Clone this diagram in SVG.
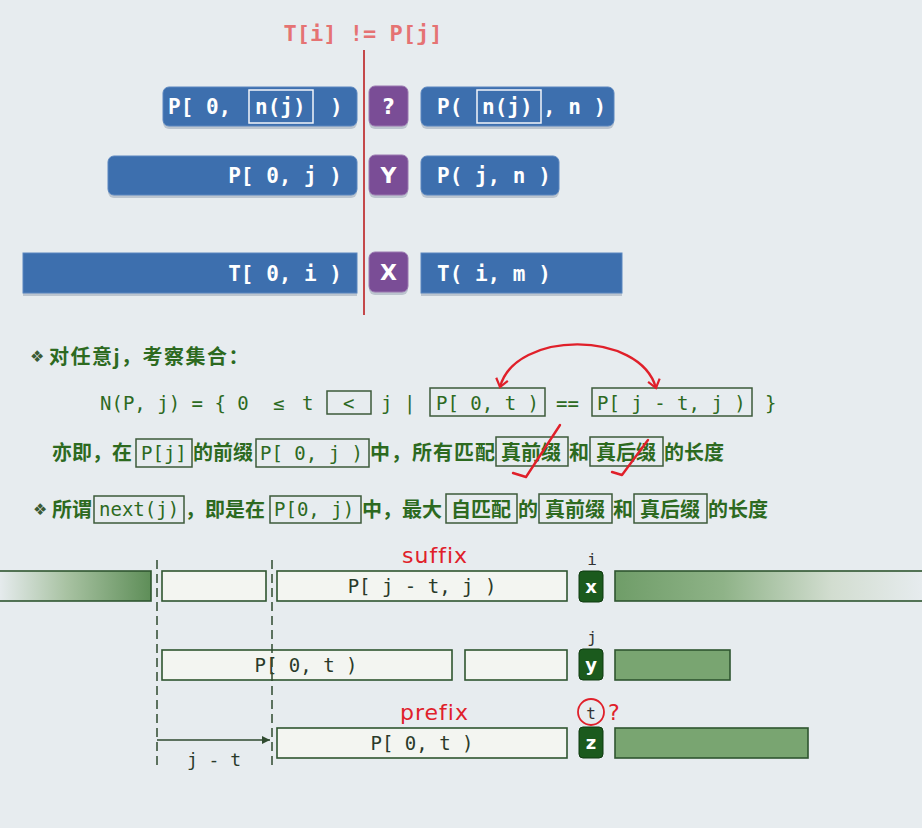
<svg xmlns="http://www.w3.org/2000/svg" width="922" height="828" viewBox="0 0 922 828">
<style>
.bg{fill:#e7ecef}
.blue{fill:#3d6fae;stroke:#5a86bf;stroke-width:1}
.shadow{fill:#bcc5cf}
.purple{fill:#7a4d96;stroke:#9a78b0;stroke-width:1}
.wt{font-family:"DejaVu Sans Mono","Liberation Mono",monospace;font-weight:bold;font-size:21px;fill:#ffffff}
.badge{font-family:"DejaVu Sans","Liberation Sans",sans-serif;font-weight:bold;font-size:19px;fill:#ffffff;text-anchor:middle}
.inbox{fill:none;stroke:#f2f5fa;stroke-width:1.5}
.cn{font-family:"Noto Sans CJK SC","DejaVu Sans",sans-serif;font-weight:bold;font-size:20px;fill:#2d6a1f}
.mono{font-family:"DejaVu Sans Mono","Liberation Mono",monospace;font-size:19px;fill:#2d6a1f}
.tb{fill:none;stroke:#3d5a3a;stroke-width:1.5}
.dia{font-family:"DejaVu Sans",sans-serif;font-size:16px;fill:#3b5a35}
.wb{fill:#f3f5f1;stroke:#2f5530;stroke-width:1.6}
.gb{fill:#79a571;stroke:#2f5530;stroke-width:1.6}
.dk{fill:#1b5a1d;stroke:#0f3a10;stroke-width:1}
.bt{font-family:"DejaVu Sans Mono","Liberation Mono",monospace;font-size:19px;fill:#2a3a2a;text-anchor:middle}
.lab{font-family:"DejaVu Sans Mono","Liberation Mono",monospace;font-size:16px;fill:#333333;text-anchor:middle}
.red{font-family:"DejaVu Sans","Liberation Sans",sans-serif;font-size:22px;fill:#e0202a}
.dash{stroke:#2f4a2f;stroke-width:1.5;stroke-dasharray:9 5;fill:none}
.ink{fill:none;stroke:#e0202a;stroke-width:2.4;stroke-linecap:round;stroke-linejoin:round}
</style>
<defs>
<linearGradient id="gL" x1="0" y1="0" x2="1" y2="0">
<stop offset="0" stop-color="#e7ecef"/>
<stop offset="0.45" stop-color="#a8c2a2"/>
<stop offset="1" stop-color="#5e8e58"/>
</linearGradient>
<linearGradient id="gR" x1="0" y1="0" x2="1" y2="0">
<stop offset="0" stop-color="#6f9d68"/>
<stop offset="0.35" stop-color="#8fb388"/>
<stop offset="0.7" stop-color="#d2ddd0"/>
<stop offset="1" stop-color="#e7ecef"/>
</linearGradient>
<marker id="redArrow" markerWidth="14" markerHeight="14" refX="10" refY="7" orient="auto-start-reverse" markerUnits="userSpaceOnUse">
<path d="M2,1 L10,7 L2,13" fill="none" stroke="#e0202a" stroke-width="2.2"/>
</marker>
<marker id="grArrow" markerWidth="10" markerHeight="10" refX="8" refY="5" orient="auto" markerUnits="userSpaceOnUse">
<path d="M0,1 L8,5 L0,9 Z" fill="#2f4a2f"/>
</marker>
</defs>
<rect class="bg" x="0" y="0" width="922" height="828"/>

<g id="title">
<text x="363" y="41" text-anchor="middle" style="font-family:'DejaVu Sans Mono','Liberation Mono',monospace;font-weight:bold;font-size:22px;fill:#e57373">T[i] != P[j]</text>
</g>

<g id="divider">
<line x1="364" y1="50" x2="364" y2="315" stroke="#c4484a" stroke-width="2"/>
</g>

<g id="row1-left">
<rect class="shadow" x="163" y="89" width="194" height="40" rx="6"/>
<rect class="blue" x="163" y="87" width="194" height="39" rx="6"/>
<text class="wt" x="168" y="114">P[ 0,</text>
<rect class="inbox" x="249" y="90" width="64" height="33"/>
<text class="wt" x="255" y="114">n(j)</text>
<text class="wt" x="330" y="114">)</text>
</g>
<g id="row1-badge">
<rect class="shadow" x="369" y="88" width="39" height="41" rx="6"/>
<rect class="purple" x="369" y="86" width="39" height="40" rx="6"/>
<text class="badge" x="388.5" y="114" style="font-size:21px">?</text>
</g>
<g id="row1-right">
<rect class="shadow" x="421" y="89" width="193" height="40" rx="6"/>
<rect class="blue" x="421" y="87" width="193" height="39" rx="6"/>
<text class="wt" x="437" y="114">P(</text>
<rect class="inbox" x="477" y="90" width="64" height="33"/>
<text class="wt" x="482" y="114">n(j)</text>
<text class="wt" x="543" y="114">, n )</text>
</g>

<g id="row2-left">
<rect class="shadow" x="108" y="158" width="249" height="40" rx="6"/>
<rect class="blue" x="108" y="156" width="249" height="39" rx="6"/>
<text class="wt" x="342" y="183" text-anchor="end">P[ 0, j )</text>
</g>
<g id="row2-badge">
<rect class="shadow" x="369" y="157" width="39" height="41" rx="6"/>
<rect class="purple" x="369" y="155" width="39" height="40" rx="6"/>
<text class="badge" x="388.5" y="183" style="font-size:22px">Y</text>
</g>
<g id="row2-right">
<rect class="shadow" x="421" y="158" width="138" height="40" rx="6"/>
<rect class="blue" x="421" y="156" width="138" height="39" rx="6"/>
<text class="wt" x="437" y="183">P( j, n )</text>
</g>

<g id="row3-left">
<rect class="shadow" x="23" y="255" width="334" height="41"/>
<rect class="blue" x="23" y="253" width="334" height="40"/>
<text class="wt" x="342" y="281" text-anchor="end">T[ 0, i )</text>
</g>
<g id="row3-badge">
<rect class="shadow" x="369" y="254" width="39" height="41" rx="6"/>
<rect class="purple" x="369" y="252" width="39" height="40" rx="6"/>
<text class="badge" x="388.5" y="280" style="font-size:22px">X</text>
</g>
<g id="row3-right">
<rect class="shadow" x="421" y="255" width="201" height="41"/>
<rect class="blue" x="421" y="253" width="201" height="40"/>
<text class="wt" x="437" y="281">T( i, m )</text>
</g>

<g id="line1">
<text class="dia" x="30" y="362">❖</text>
<text class="cn" x="49" y="364" style="letter-spacing:1.5px">对任意j，考察集合：</text>
</g>

<g id="formula">
<text class="mono" x="100" y="410">N(P, j) = { 0</text>
<text class="mono" x="273" y="410">≤</text>
<text class="mono" x="302" y="410">t</text>
<rect class="tb" x="327" y="391" width="44" height="23"/>
<text class="mono" x="343" y="410">&lt;</text>
<text class="mono" x="381" y="410">j</text>
<text class="mono" x="404" y="410">|</text>
<rect class="tb" x="430" y="388" width="115" height="28"/>
<text class="mono" x="436" y="410">P[ 0, t )</text>
<text class="mono" x="556" y="410">==</text>
<rect class="tb" x="592" y="388" width="160" height="28"/>
<text class="mono" x="597" y="410">P[ j - t, j )</text>
<text class="mono" x="765" y="410">}</text>
</g>

<g id="line3">
<text class="cn" x="52" y="460">亦即，在</text>
<rect class="tb" x="136" y="439" width="56" height="28"/>
<text class="mono" x="141" y="460">P[j]</text>
<text class="cn" x="193" y="460">的前缀</text>
<rect class="tb" x="256" y="439" width="113" height="28"/>
<text class="mono" x="260" y="460">P[ 0, j )</text>
<text class="cn" x="370" y="460" style="letter-spacing:1px">中，所有匹配</text>
<rect class="tb" x="496" y="437" width="72" height="29"/>
<text class="cn" x="501" y="460">真前缀</text>
<text class="cn" x="569" y="460">和</text>
<rect class="tb" x="590" y="437" width="73" height="29"/>
<text class="cn" x="596" y="460">真后缀</text>
<text class="cn" x="664" y="460">的长度</text>
</g>

<g id="line4">
<text class="dia" x="33" y="515">❖</text>
<text class="cn" x="52" y="517">所谓</text>
<rect class="tb" x="94" y="496" width="90" height="27"/>
<text class="mono" x="99" y="516">next(j)</text>
<text class="cn" x="185" y="517">，即是在</text>
<rect class="tb" x="270" y="496" width="91" height="27"/>
<text class="mono" x="274" y="516">P[0, j)</text>
<text class="cn" x="362" y="517">中，最大</text>
<rect class="tb" x="446" y="494" width="71" height="29"/>
<text class="cn" x="451" y="517">自匹配</text>
<text class="cn" x="518" y="517">的</text>
<rect class="tb" x="539" y="494" width="73" height="29"/>
<text class="cn" x="545" y="517">真前缀</text>
<text class="cn" x="613" y="517">和</text>
<rect class="tb" x="634" y="494" width="73" height="29"/>
<text class="cn" x="640" y="517">真后缀</text>
<text class="cn" x="708" y="517">的长度</text>
</g>

<g id="checks">
<polyline class="ink" points="513,473 526,477 560,425"/>
<polyline class="ink" points="612,472 622,475 648,440"/>
</g>

<g id="rowA">
<rect x="-2" y="571" width="153" height="30" fill="url(#gL)" stroke="#2f5530" stroke-width="1.6"/>
<rect class="wb" x="162" y="571" width="104" height="30"/>
<rect class="wb" x="277" y="571" width="290" height="30"/>
<text class="bt" x="422" y="593">P[ j - t, j )</text>
<rect class="dk" x="579" y="571" width="24" height="31" rx="4"/>
<text class="badge" x="591" y="593" style="font-size:18px">x</text>
<rect x="615" y="571" width="310" height="30" fill="url(#gR)" stroke="#2f5530" stroke-width="1.6"/>
<text class="lab" x="592" y="565">i</text>
<text class="red" x="402" y="563" style="letter-spacing:1px">suffix</text>
</g>

<g id="rowB">
<rect class="wb" x="162" y="650" width="290" height="30"/>
<text class="bt" x="306" y="672">P[ 0, t )</text>
<rect class="wb" x="465" y="650" width="102" height="30"/>
<rect class="dk" x="579" y="649" width="24" height="31" rx="4"/>
<text class="badge" x="591" y="671" style="font-size:18px">y</text>
<rect class="gb" x="615" y="650" width="115" height="30"/>
<text class="lab" x="592" y="643">j</text>
</g>

<g id="rowC">
<rect class="wb" x="277" y="728" width="290" height="30"/>
<text class="bt" x="422" y="750">P[ 0, t )</text>
<rect class="dk" x="579" y="727" width="24" height="31" rx="4"/>
<text class="badge" x="591" y="749" style="font-size:18px">z</text>
<rect class="gb" x="615" y="728" width="193" height="30"/>
<text class="lab" x="591" y="719">t</text>
<circle cx="591" cy="712" r="13" fill="none" stroke="#e0202a" stroke-width="1.8"/>
<text class="red" x="608" y="720">?</text>
<text class="red" x="400" y="720" style="letter-spacing:1px">prefix</text>
</g>

<g id="guides">
<line class="dash" x1="157" y1="560" x2="157" y2="768"/>
<line class="dash" x1="272" y1="560" x2="272" y2="768"/>
<text class="bt" x="214" y="766" style="font-size:18px">j - t</text>
</g>

<g id="connectors">
<path d="M500,387 C515,330 640,330 656,388" fill="none" stroke="#e0202a" stroke-width="2.4" marker-start="url(#redArrow)" marker-end="url(#redArrow)"/>
<line x1="157" y1="740" x2="270" y2="740" stroke="#2f4a2f" stroke-width="1.5" marker-end="url(#grArrow)"/>
</g>
</svg>
